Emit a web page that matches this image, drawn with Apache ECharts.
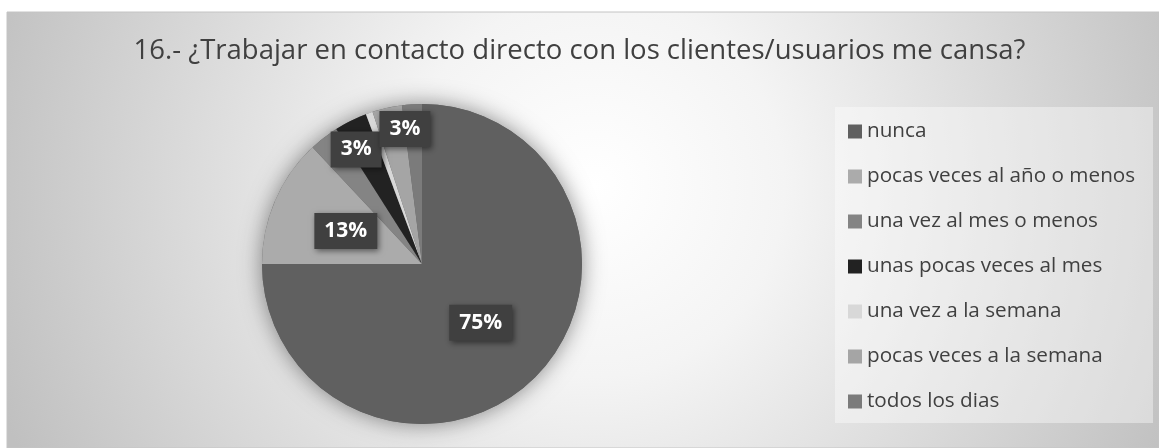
<!DOCTYPE html>
<html>
<head>
<meta charset="utf-8">
<script src="https://cdn.jsdelivr.net/npm/echarts@6/dist/echarts.min.js"></script>
<style>
  html, body { margin: 0; padding: 0; background: #fff; }
  #pieChart { width: 1159px; height: 448px; }
</style>
</head>
<body>
<div id="pieChart"></div>
<script>
// datos del gráfico
var categorias = ['nunca', 'pocas veces al año o menos', 'una vez al mes o menos',
  'unas pocas veces al mes', 'una vez a la semana', 'pocas veces a la semana', 'todos los dias'];
var porcentajes = [75, 13, 3, 3.3, 0.7, 3, 2];
var colores = ['#606060', '#ababab', '#848484', '#222222', '#d8d8d8', '#a5a5a5', '#7b7b7b'];
var titulo = '16.- ¿Trabajar en contacto directo con los clientes/usuarios me cansa?';

// etiquetas visibles y su desplazamiento (movidas a mano en el original)
var etiquetasVisibles = [true, true, true, false, false, true, false];
var desplazamientos = { 2: [-15, -49], 5: [1, -54] };

var fuente = "'Open Sans', 'Noto Sans', sans-serif";
var total = porcentajes.reduce(function (a, b) { return a + b; }, 0);

var myChart = echarts.init(document.getElementById('pieChart'));

var datos = categorias.map(function (c, i) {
  return { name: c, value: porcentajes[i], label: { show: etiquetasVisibles[i] } };
});

var option = {
  animation: false,
  color: colores,
  graphic: [
    {
      type: 'rect', z: -10, silent: true,
      shape: { x: 7, y: 12, width: 1152, height: 436 },
      style: {
        fill: {
          type: 'radial', x: 0.51, y: 0.4, r: 1.45,
          colorStops: [
            { offset: 0, color: '#ffffff' },
            { offset: 0.3, color: '#f4f4f4' },
            { offset: 1, color: '#c0c0c0' }
          ]
        },
        stroke: '#c4c4c4', lineWidth: 1
      }
    },
    {
      type: 'rect', z: -9, silent: true,
      shape: { x: 835, y: 107, width: 318, height: 316 },
      style: { fill: 'rgba(255,255,255,0.4)' }
    }
  ],
  title: {
    text: titulo,
    left: 'center',
    top: 32,
    textStyle: { fontFamily: fuente, fontSize: 27.5, fontWeight: 'normal', color: '#404040' }
  },
  legend: {
    orient: 'vertical',
    left: 843,
    top: 116,
    data: categorias,
    icon: 'rect',
    itemWidth: 14,
    itemHeight: 14,
    itemGap: 24,
    textStyle: { fontFamily: fuente, fontSize: 20.7, color: '#404040' }
  },
  series: [
    {
      // sombra del pastel
      name: 'sombra',
      type: 'pie',
      silent: true,
      z: 1,
      center: [422, 264],
      radius: 160,
      label: { show: false },
      labelLine: { show: false },
      itemStyle: { color: '#606060', shadowBlur: 22, shadowColor: 'rgba(0,0,0,0.45)' },
      data: [{ name: '', value: total }]
    },
    {
      name: 'respuestas',
      type: 'pie',
      z: 2,
      center: [422, 264],
      radius: 160,
      startAngle: 90,
      clockwise: true,
      labelLine: { show: false },
      label: {
        position: 'inside',
        formatter: function (p) { return Math.round(p.value) + '%'; },
        fontFamily: fuente,
        fontSize: 21,
        fontWeight: 'bold',
        color: '#ffffff',
        backgroundColor: '#404040',
        padding: [8, 10, 7, 10],
        shadowBlur: 6,
        shadowOffsetX: 2,
        shadowOffsetY: 2,
        shadowColor: 'rgba(0,0,0,0.5)'
      },
      labelLayout: function (params) {
        var d = desplazamientos[params.dataIndex];
        return d ? { dx: d[0], dy: d[1] } : {};
      },
      data: datos
    }
  ]
};

myChart.setOption(option);
</script>
</body>
</html>
